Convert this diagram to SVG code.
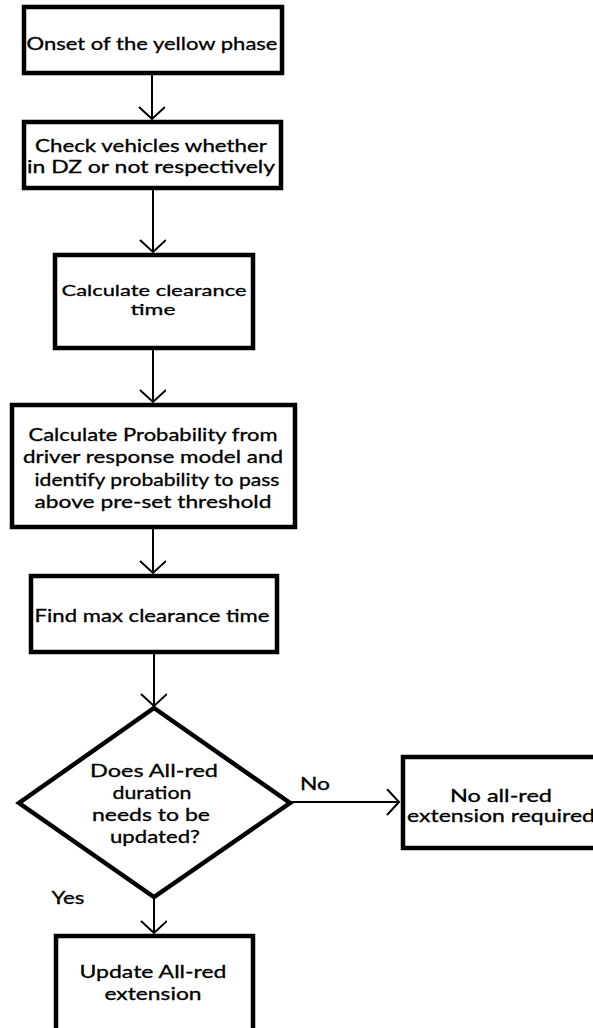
<svg xmlns="http://www.w3.org/2000/svg" width="593" height="1028" viewBox="0 0 593 1028">
<style>
.box{fill:#fff;stroke:#000;stroke-width:4.5;stroke-linejoin:miter}
.t{font-family:Lato,"Liberation Sans",sans-serif;font-size:17.5px;font-weight:400;fill:#000;stroke:#000;stroke-width:0.3;text-anchor:middle}
.s{font-size:16px}
.c{fill:none;stroke:#000;stroke-width:2}
</style>
<defs>
<marker id="ah" markerUnits="userSpaceOnUse" markerWidth="30" markerHeight="30" refX="13" refY="13" orient="auto">
<path d="M1,0 L13,13 L1,26" fill="none" stroke="#000" stroke-width="2"/>
</marker>
</defs>
<rect width="593" height="1028" fill="#fff"/>
<g id="connectors">
<line class="c" x1="152" y1="75" x2="152" y2="119" marker-end="url(#ah)"/>
<line class="c" x1="153" y1="189" x2="153" y2="252" marker-end="url(#ah)"/>
<line class="c" x1="153" y1="349" x2="153" y2="402" marker-end="url(#ah)"/>
<line class="c" x1="153" y1="528" x2="153" y2="573" marker-end="url(#ah)"/>
<line class="c" x1="154" y1="653" x2="154" y2="706" marker-end="url(#ah)"/>
<line class="c" x1="290" y1="802" x2="399" y2="802" marker-end="url(#ah)"/>
<line class="c" x1="154" y1="897" x2="154" y2="933" marker-end="url(#ah)"/>
<text class="t" x="315" y="790" textLength="30" lengthAdjust="spacingAndGlyphs">No</text>
<text class="t" x="68" y="904" textLength="33" lengthAdjust="spacingAndGlyphs">Yes</text>
</g>
<g id="n1">
<rect class="box" x="24" y="7" width="258" height="66"/>
<text class="t" x="152" y="50" textLength="251" lengthAdjust="spacingAndGlyphs">Onset of the yellow phase</text>
</g>
<g id="n2">
<rect class="box" x="24" y="122" width="257" height="66"/>
<text class="t" x="151" y="152" textLength="232" lengthAdjust="spacingAndGlyphs">Check vehicles whether</text>
<text class="t" x="151" y="173" textLength="248" lengthAdjust="spacingAndGlyphs">in DZ or not respectively</text>
</g>
<g id="n3">
<rect class="box" x="55" y="255" width="198" height="93"/>
<text class="t s" x="154" y="296" textLength="185" lengthAdjust="spacingAndGlyphs">Calculate clearance</text>
<text class="t s" x="153" y="315" textLength="45" lengthAdjust="spacingAndGlyphs">time</text>
</g>
<g id="n4">
<rect class="box" x="12" y="405" width="283" height="122"/>
<text class="t" x="153" y="441" textLength="249" lengthAdjust="spacingAndGlyphs">Calculate Probability from</text>
<text class="t" x="153" y="463" textLength="260" lengthAdjust="spacingAndGlyphs">driver response model and</text>
<text class="t" x="157" y="486" textLength="245" lengthAdjust="spacingAndGlyphs">identify probability to pass</text>
<text class="t" x="153" y="508" textLength="237" lengthAdjust="spacingAndGlyphs">above pre-set threshold</text>
</g>
<g id="n5">
<rect class="box" x="31" y="576" width="246" height="76"/>
<text class="t" x="152" y="622" textLength="235" lengthAdjust="spacingAndGlyphs">Find max clearance time</text>
</g>
<g id="n6">
<polygon class="box" points="154,708 290,803 154,897 19,803"/>
<text class="t" x="154" y="777" textLength="128" lengthAdjust="spacingAndGlyphs">Does All-red</text>
<text class="t" x="152" y="799" textLength="79" lengthAdjust="spacingAndGlyphs">duration</text>
<text class="t" x="151" y="821" textLength="118" lengthAdjust="spacingAndGlyphs">needs to be</text>
<text class="t" x="155" y="843" textLength="90" lengthAdjust="spacingAndGlyphs">updated?</text>
</g>
<g id="n7">
<rect class="box" x="403" y="757" width="196" height="91"/>
<text class="t" x="501" y="802" textLength="102" lengthAdjust="spacingAndGlyphs">No all-red</text>
<text class="t" x="501" y="822" textLength="188" lengthAdjust="spacingAndGlyphs">extension required</text>
</g>
<g id="n8">
<rect class="box" x="56" y="936" width="197" height="100"/>
<text class="t" x="153" y="978" textLength="147" lengthAdjust="spacingAndGlyphs">Update All-red</text>
<text class="t" x="153" y="1000" textLength="97" lengthAdjust="spacingAndGlyphs">extension</text>
</g>
</svg>
